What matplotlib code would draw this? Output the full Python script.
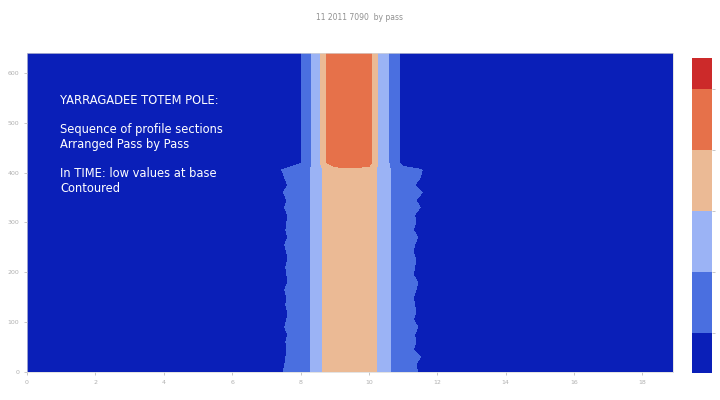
import numpy as np
import matplotlib
matplotlib.use("Agg")
import matplotlib.pyplot as plt

# across-track positions of the profile samples
x_cols = [0, 4, 7, 7.5, 8, 8.25, 8.5, 8.75, 9, 9.5, 10, 10.25, 10.5, 10.75, 11, 11.5, 12, 16, 18.9]
# profile shape, lower passes (peach core) and upper passes (orange core)
lower_profile = [0.6, 0.6, 0.6, 0.85, 1.6, 1.9, 2.5, 3.3, 3.5, 3.6, 3.5, 2.95, 2.3, 1.7, 1.3, 0.8, 0.6, 0.6, 0.6]
upper_profile = [0.6, 0.6, 0.6, 0.6, 0.9, 1.7, 2.6, 4.0, 4.6, 4.7, 4.5, 3.0, 2.3, 1.4, 0.7, 0.6, 0.6, 0.6, 0.6]

# pass positions (y) and per-pass fringe / peak values
lower_y = [0, 15, 30, 45, 60, 75, 90, 105, 120, 135, 150, 165, 180, 195, 210,
           225, 240, 255, 270, 285, 300, 315, 330, 345, 360, 375, 390, 405]
lower_left = [1.0, 0.95, 0.9, 0.85, 0.9, 0.8, 0.95, 0.85, 0.8, 0.9, 0.85, 0.95, 0.8, 0.85,
              0.9, 0.8, 0.85, 0.95, 0.8, 0.9, 0.85, 0.8, 0.95, 0.85, 1.0, 0.8, 0.95, 1.05]
lower_right = [0.95, 0.9, 1.0, 0.8, 0.9, 0.85, 0.95, 0.8, 0.9, 0.85, 0.8, 0.9, 0.95, 0.8,
               0.85, 0.9, 0.8, 0.85, 0.95, 0.8, 0.9, 0.85, 1.0, 0.9, 1.05, 0.85, 1.0, 1.05]
lower_peak = [3.6, 3.6, 3.5, 3.6, 3.6, 3.5, 3.6, 3.6, 3.6, 3.5, 3.6, 3.6, 3.6, 3.6,
              3.6, 3.6, 3.5, 3.6, 3.6, 3.6, 3.7, 3.6, 3.8, 3.6, 3.7, 3.6, 3.8, 3.7]
upper_y = [420, 440, 460, 480, 500, 520, 540, 560, 580, 600, 620, 640]
upper_peak = [4.7, 4.9, 4.9, 4.8, 4.9, 4.7, 4.8, 4.6, 4.7, 4.6, 4.7, 4.8]

levels = [0.35, 1, 2, 3, 4, 5, 5.5]
colors = ["#0a1fb8", "#4a6fe0", "#9bb3f5", "#ebba95", "#e6714a", "#cc2a2a"]

i_left = x_cols.index(7.5)
i_right = x_cols.index(11.5)
i_mid = x_cols.index(9.5)

rows = []
for k in range(len(lower_y)):
    r = list(lower_profile)
    r[i_left] = lower_left[k]
    r[i_right] = lower_right[k]
    r[i_mid] = lower_peak[k]
    rows.append(r)
for k in range(len(upper_y)):
    r = list(upper_profile)
    r[i_mid] = upper_peak[k]
    rows.append(r)
Z = np.array(rows)
Y = lower_y + upper_y

fig = plt.figure(figsize=(7.2, 4), dpi=100)
ax = fig.add_axes([0.0375, 0.07, 0.8975, 0.7975])
cs = ax.contourf(x_cols, Y, Z, levels=levels, colors=colors)
ax.set_xlim(0, 18.9)
ax.set_ylim(0, 640)
ax.set_xticks(range(0, 19, 2))
ax.set_yticks(range(0, 700, 100))
ax.tick_params(colors="#b0b0b0", labelsize=4.5, length=2, width=0.5)
for s in ax.spines.values():
    s.set_color("#d8d8d8")
    s.set_linewidth(0.5)

ax.text(0.051, 0.872,
        "YARRAGADEE TOTEM POLE:\n\nSequence of profile sections\nArranged Pass by Pass\n\n"
        "In TIME: low values at base\nContoured",
        transform=ax.transAxes, color="white", fontsize=8.3, va="top", ha="left",
        linespacing=1.17)

fig.text(0.5, 0.955, "11 2011 7090  by pass", ha="center", va="center",
         fontsize=5.5, color="#909090")

cax = fig.add_axes([0.961, 0.0675, 0.028, 0.7875])
cb = fig.colorbar(cs, cax=cax, spacing="proportional")
cb.set_ticks([1, 2, 3, 4, 5])
cb.ax.set_yticklabels([])
cb.ax.tick_params(length=2, width=0.5, color="#b0b0b0")
cb.outline.set_visible(False)

fig.savefig("out.png", dpi=100)
